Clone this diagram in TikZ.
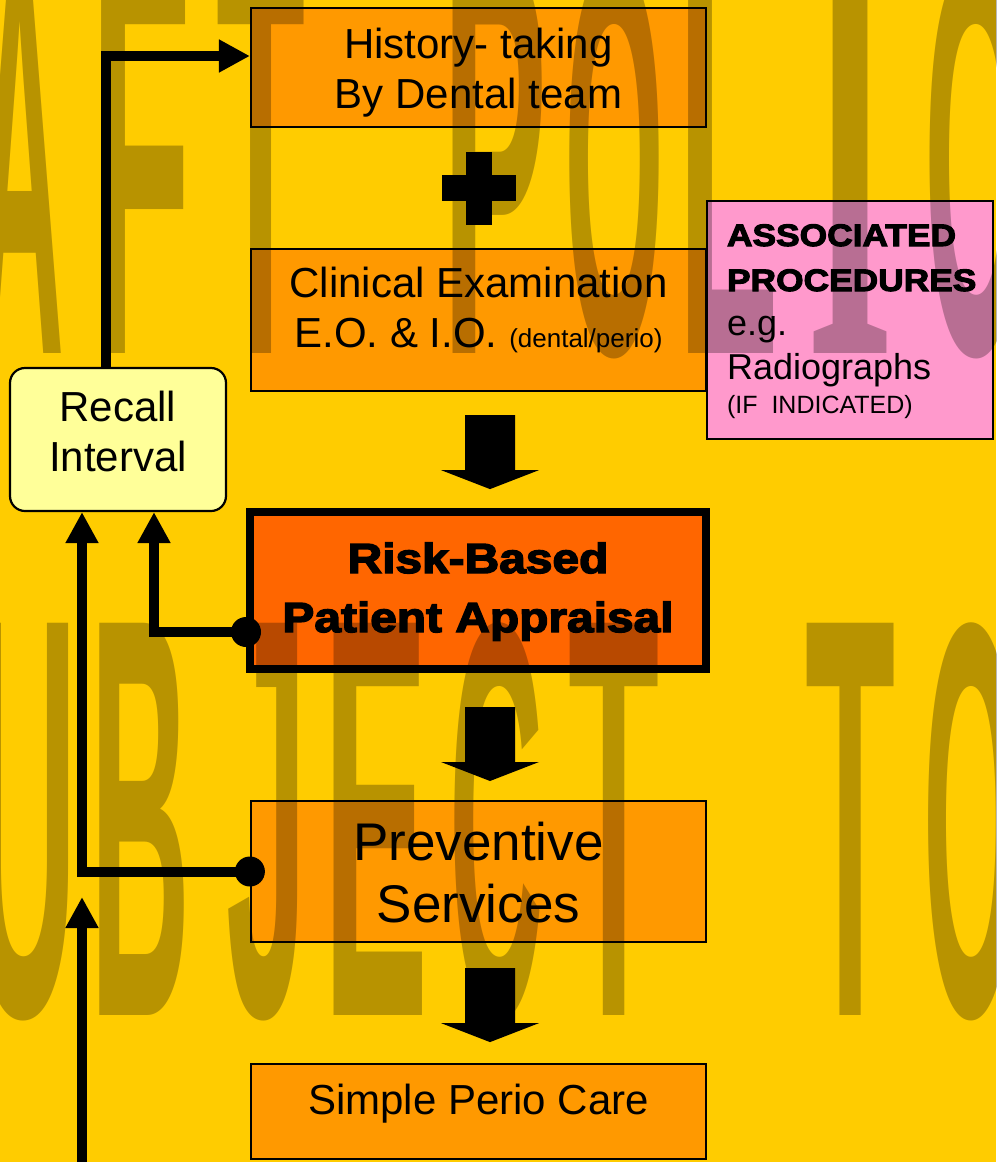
\documentclass[tikz,border=0pt]{standalone}
\usepackage{fontspec}
\usepackage{graphicx}
\setmainfont{Liberation Sans}
\newfontfamily\blk{Liberation Sans}[BoldFeatures={FakeStretch=1.14,FakeBold=3.5}]
\newfontfamily\wmserif{Liberation Serif}
\usetikzlibrary{arrows.meta,calc}
\definecolor{bgyellow}{HTML}{FFCC00}
\definecolor{boxorange}{HTML}{FF9900}
\definecolor{riskorange}{HTML}{FF6600}
\definecolor{recallyellow}{HTML}{FFFF99}
\definecolor{pinkbox}{HTML}{FF99CC}
\newcommand\myfs[2]{\fontsize{#1}{#2}\selectfont}
\tikzset{
  box/.style={draw=black, line width=2.2pt, fill=boxorange, inner sep=0pt, align=center, font=\myfs{42}{50}},
  conn/.style={draw=black, line width=10pt},
  tipped/.style={-{Triangle[length=31pt,width=31pt]}},
  dotnode/.style={circle, fill=black, minimum size=30pt, inner sep=0pt},
  blockarrow/.style={fill=black},
  wm/.style={text=black, text opacity=0.28, inner sep=0pt, anchor=base west, font=\bfseries},
}
\begin{document}
\begin{tikzpicture}[x=1pt,y=-1pt]
\useasboundingbox (0,0) rectangle (996,1162);
\fill[bgyellow] (0,0) rectangle (996,1162);

% boxes
\node[box, minimum width=455pt, minimum height=119pt, text height=81pt, text depth=0pt] (hist) at (478.5,67.5) {History- taking\\By Dental team};
\node[box, minimum width=455pt, minimum height=142pt, text height=54pt, text depth=0pt] (clin) at (478.5,320) {Clinical Examination\\E.O. \& I.O. {\myfs{26}{30}(dental/perio)}};
\node[box, fill=riskorange, line width=8pt, minimum width=456pt, minimum height=157pt, font=\blk\bfseries\myfs{42}{59}, text height=83pt, text depth=0pt] (risk) at (478,590.5) {Risk-Based\\Patient Appraisal};
\node[box, minimum width=455pt, minimum height=141pt, font=\myfs{53}{62}, text height=101pt, text depth=0pt] (prev) at (478.5,871.5) {Preventive\\Services};
\node[box, minimum width=455pt, minimum height=95pt, text height=5pt, text depth=0pt] (simple) at (478.5,1111.5) {Simple Perio Care};
\node[box, fill=recallyellow, rounded corners=15pt, minimum width=216pt, minimum height=143pt, text height=63pt, text depth=0pt] (recall) at (118,439.5) {Recall\\Interval};
\node[box, fill=pinkbox, minimum width=286pt, minimum height=238pt, align=left, text width=246pt, text height=0pt, text depth=148pt] (assoc) at (850,320) {{\blk\bfseries\myfs{31}{45}ASSOCIATED\\PROCEDURES\par}{\myfs{36}{44}e.g.\\Radiographs\par}{\myfs{25}{34}(IF INDICATED)\par}};

% plus sign
\coordinate (plusc) at ($(hist.south)!0.5!(clin.north)$);
\fill[blockarrow] (plusc) ++(-13,-36.5) rectangle ++(26,73);
\fill[blockarrow] (plusc) ++(-37,-13) rectangle ++(74,26);

% block arrows
\fill[blockarrow] ($(clin.south)+(11.5,23)$) ++(-25,0) -- ++(50,0) -- ++(0,55) -- ++(24,0) -- ++(-49,19) -- ++(-49,-19) -- ++(24,0) -- cycle;
\fill[blockarrow] ($(risk.south)+(12,34)$) ++(-25,0) -- ++(50,0) -- ++(0,55) -- ++(24,0) -- ++(-49,19) -- ++(-49,-19) -- ++(24,0) -- cycle;
\fill[blockarrow] ($(prev.south)+(11.5,25)$) ++(-25,0) -- ++(50,0) -- ++(0,55) -- ++(24,0) -- ++(-49,19) -- ++(-49,-19) -- ++(24,0) -- cycle;

% connectors
\node[dotnode] (dotrisk) at ([yshift=-41.5pt]risk.west) {};
\node[dotnode] (dotprev) at (prev.west) {};
\draw[conn,tipped] (dotrisk.center) -| ([xshift=36pt]recall.south);
\draw[conn,tipped] (dotprev.center) -| ([xshift=-36pt]recall.south);
\draw[conn,tipped] ([xshift=-12pt]recall.north) |- ([yshift=11.5pt]hist.west);
\coordinate (feedin) at (82,1162);
\coordinate (feedtop) at (82,897);
\draw[conn,tipped] (feedin) -- (feedtop);

% watermark
\begin{scope}
\clip (0,0) rectangle (996,1162);
\foreach \n/\xl/\w/\bl/\ch in {1/-25/89/353/A, 2/90/101/353/F, 3/216/89/353/T, 4/442/105/353/P, 5/564/100/353/O, 6/677/101/353/L, 7/924/97/353/C,
  8/-29/106/1015/U, 9/90/100/1015/B, 10/226/81/1015/J, 11/323/105/1015/E, 12/449/94/1015/C, 13/568/91/1015/T, 14/805/90/1015/T, 15/923/96/1015/O} {
  \node[wm] (wm\n) at (\xl,\bl) {\resizebox{\w pt}{392pt}{\ch}};
}
\node[wm] (wmI) at (806,353) {\resizebox{88pt}{392pt}{\wmserif I}};
\end{scope}
\end{tikzpicture}
\end{document}
